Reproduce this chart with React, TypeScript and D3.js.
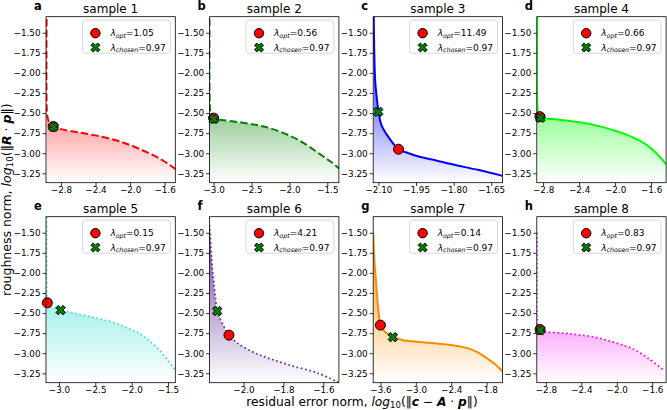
import React, { useEffect, useRef } from "react";
import * as d3 from "d3";

const FONT = "'DejaVu Sans', sans-serif";
const W = 667;
const H = 410;

// Figure grid (2 rows x 4 columns of L-curve panels)
const PANEL_LEFT0 = 46;
const PANEL_STEP = 163.6;
const PANEL_W = 129.3;
const PANEL_H = 166;
const ROW_TOPS = [16.7, 216.7];

const sampleTitles = ["sample 1", "sample 2", "sample 3", "sample 4", "sample 5", "sample 6", "sample 7", "sample 8"];
const panelLetters = ["a", "b", "c", "d", "e", "f", "g", "h"];
const lambdaOpt = ["1.05", "0.56", "11.49", "0.66", "0.15", "4.21", "0.14", "0.83"];
const lambdaChosen = "0.97";

// axis limits: x = log10 residual norm per sample, y = log10 roughness norm (shared)
const xLimits: [number, number][] = [
  [-2.974, -1.476],
  [-3.053, -1.347],
  [-2.121, -1.605],
  [-2.87, -1.433],
  [-3.178, -1.4],
  [-2.17, -1.522],
  [-3.723, -1.531],
  [-2.902, -1.444],
];
const yLimits: [number, number] = [-3.367, -1.3];

const xTickValues: number[][] = [
  [-2.8, -2.4, -2.0, -1.6],
  [-3.0, -2.5, -2.0, -1.5],
  [-2.1, -1.95, -1.8, -1.65],
  [-2.8, -2.4, -2.0, -1.6],
  [-3.0, -2.5, -2.0, -1.5],
  [-2.0, -1.8, -1.6],
  [-3.6, -3.0, -2.4, -1.8],
  [-2.8, -2.4, -2.0, -1.6],
];
const xTickDecimals = [1, 1, 2, 1, 1, 1, 1, 1];
const yTickValues = [-1.5, -1.75, -2.0, -2.25, -2.5, -2.75, -3.0, -3.25];

// L-curves: [log10 residual norm, log10 roughness norm]
const lcurve1: [number, number][] = [
  [-2.966, -1.2], [-2.965, -2.45], [-2.955, -2.56], [-2.93, -2.63], [-2.89, -2.67],
  [-2.8, -2.7], [-2.6, -2.74], [-2.35, -2.79], [-2.1, -2.86], [-1.95, -2.92],
  [-1.8, -2.99], [-1.65, -3.07], [-1.55, -3.14], [-1.47, -3.2],
];
const lcurve2: [number, number][] = [
  [-3.053, -1.2], [-3.05, -2.4], [-3.04, -2.5], [-3.0, -2.57], [-2.9, -2.585],
  [-2.69, -2.61], [-2.45, -2.645], [-2.25, -2.69], [-2.0, -2.78], [-1.8, -2.88],
  [-1.6, -3.01], [-1.45, -3.11], [-1.345, -3.19],
];
const lcurve3: [number, number][] = [
  [-2.119, -1.2], [-2.117, -1.7], [-2.113, -2.1], [-2.106, -2.33], [-2.1, -2.48],
  [-2.088, -2.65], [-2.06, -2.8], [-2.02, -2.95], [-1.98, -3.0], [-1.94, -3.04],
  [-1.87, -3.09], [-1.81, -3.135], [-1.7, -3.21], [-1.6, -3.285],
];
const lcurve4: [number, number][] = [
  [-2.864, -1.2], [-2.862, -2.45], [-2.85, -2.53], [-2.833, -2.555], [-2.7, -2.575],
  [-2.5, -2.6], [-2.23, -2.65], [-2.0, -2.72], [-1.86, -2.775], [-1.67, -2.88],
  [-1.55, -2.99], [-1.43, -3.14],
];
const lcurve5: [number, number][] = [
  [-3.168, -1.2], [-3.167, -2.3], [-3.16, -2.37], [-3.1, -2.42], [-2.98, -2.462],
  [-2.85, -2.49], [-2.67, -2.525], [-2.45, -2.57], [-2.21, -2.63], [-2.0, -2.71],
  [-1.89, -2.755], [-1.75, -2.85], [-1.62, -2.96], [-1.5, -3.09], [-1.4, -3.21],
];
const lcurve6: [number, number][] = [
  [-2.175, -1.35], [-2.169, -1.445], [-2.163, -1.7], [-2.157, -1.92], [-2.149, -2.13],
  [-2.14, -2.33], [-2.132, -2.475], [-2.106, -2.63], [-2.073, -2.77], [-2.03, -2.875],
  [-1.94, -3.0], [-1.86, -3.075], [-1.76, -3.155], [-1.625, -3.25], [-1.52, -3.37],
];
const lcurve7: [number, number][] = [
  [-3.723, -1.5], [-3.71, -1.75], [-3.696, -1.92], [-3.675, -2.1], [-3.656, -2.3],
  [-3.63, -2.5], [-3.6, -2.65], [-3.52, -2.735], [-3.39, -2.795], [-3.23, -2.835],
  [-2.95, -2.86], [-2.67, -2.877], [-2.35, -2.905], [-2.11, -2.94], [-1.95, -2.99],
  [-1.8, -3.06], [-1.65, -3.14], [-1.53, -3.23],
];
const lcurve8: [number, number][] = [
  [-2.9, -1.5], [-2.899, -2.6], [-2.89, -2.69], [-2.865, -2.712], [-2.78, -2.735],
  [-2.6, -2.75], [-2.44, -2.77], [-2.25, -2.8], [-2.06, -2.855], [-1.9, -2.91],
  [-1.8, -2.955], [-1.65, -3.06], [-1.46, -3.22],
];
const lcurves = [lcurve1, lcurve2, lcurve3, lcurve4, lcurve5, lcurve6, lcurve7, lcurve8];

// corner picked by the optimal and by the chosen regularisation parameter
const optPoints: [number, number][] = [
  [-2.89, -2.668], [-3.0, -2.562], [-2.02, -2.95], [-2.835, -2.545],
  [-3.16, -2.372], [-2.073, -2.775], [-3.6, -2.65], [-2.865, -2.705],
];
const chosenPoints: [number, number][] = [
  [-2.887, -2.672], [-2.998, -2.572], [-2.101, -2.485], [-2.83, -2.56],
  [-2.977, -2.463], [-2.132, -2.475], [-3.39, -2.8], [-2.863, -2.712],
];

const lineColors = ["#ff0000", "#008000", "#0000ff", "#00ff00", "#40e0d0", "#663399", "#ff8c00", "#ff00ff"];
const lineDashes = ["7.4,3.2", "7.4,3.2", null, null, "1.7,2.6", "1.7,2.6", null, "1.7,2.6"];
const lineWidths = [2, 2, 2, 2, 1.8, 1.8, 2, 1.8];

const MARKER_SIZE = 10;

// filled "X" marker: a plus polygon rotated by 45 degrees
function xMarkerPath(size: number): string {
  const pts = [
    [-1, -3], [1, -3], [1, -1], [3, -1], [3, 1], [1, 1],
    [1, 3], [-1, 3], [-1, 1], [-3, 1], [-3, -1], [-1, -1],
  ].map(([a, b]) => {
    const u = (a / 6) * size;
    const v = (b / 6) * size;
    const c = Math.SQRT1_2;
    return [u * c - v * c, u * c + v * c];
  });
  return "M" + pts.map((p) => p[0].toFixed(3) + "," + p[1].toFixed(3)).join("L") + "Z";
}

function drawMathLabel(
  text: d3.Selection<SVGTextElement, unknown, null, undefined>,
  prefix: string,
  parts: { t: string; bold?: boolean }[],
  size: number
) {
  text.append("tspan").text(prefix);
  text.append("tspan").attr("font-style", "italic").text("log");
  text.append("tspan").attr("font-size", size * 0.7).attr("dy", size * 0.16).text("10");
  text.append("tspan").attr("dy", -size * 0.16).text("(\u2016");
  parts.forEach((p) => {
    const s = text.append("tspan").text(p.t);
    if (p.bold) s.attr("font-weight", "bold").attr("font-style", "italic");
  });
  text.append("tspan").text("\u2016)");
}

export default function App() {
  const ref = useRef<SVGSVGElement>(null);

  useEffect(() => {
    const svg = d3.select(ref.current as SVGSVGElement);
    svg.selectAll("*").remove();
    const defs = svg.append("defs");

    lcurves.forEach((pts, i) => {
      const row = Math.floor(i / 4);
      const col = i % 4;
      const left = PANEL_LEFT0 + col * PANEL_STEP;
      const top = ROW_TOPS[row];
      const right = left + PANEL_W;
      const bottom = top + PANEL_H;
      const color = lineColors[i];

      const x = d3.scaleLinear().domain(xLimits[i]).range([left, right]);
      const y = d3.scaleLinear().domain(yLimits).range([bottom, top]);

      defs
        .append("clipPath")
        .attr("id", `clip-${i}`)
        .append("rect")
        .attr("x", left)
        .attr("y", top)
        .attr("width", PANEL_W)
        .attr("height", PANEL_H);

      const grad = defs
        .append("linearGradient")
        .attr("id", `shade-${i}`)
        .attr("gradientUnits", "userSpaceOnUse")
        .attr("x1", 0)
        .attr("x2", 0)
        .attr("y1", top)
        .attr("y2", bottom);
      grad.append("stop").attr("offset", 0).attr("stop-color", color).attr("stop-opacity", 1);
      grad.append("stop").attr("offset", 1).attr("stop-color", color).attr("stop-opacity", 0);

      const g = svg.append("g");
      const plot = g.append("g").attr("clip-path", `url(#clip-${i})`);

      const curve = d3.curveCatmullRom.alpha(0.5);
      const area = d3
        .area<[number, number]>()
        .x((d) => x(d[0]))
        .y0(bottom)
        .y1((d) => y(d[1]))
        .curve(curve);
      const line = d3
        .line<[number, number]>()
        .x((d) => x(d[0]))
        .y((d) => y(d[1]))
        .curve(curve);

      plot.append("path").datum(pts).attr("d", area).attr("fill", `url(#shade-${i})`);
      const lp = plot
        .append("path")
        .datum(pts)
        .attr("d", line)
        .attr("fill", "none")
        .attr("stroke", color)
        .attr("stroke-width", lineWidths[i]);
      if (lineDashes[i]) lp.attr("stroke-dasharray", lineDashes[i] as string);

      // markers
      const op = optPoints[i];
      const cp = chosenPoints[i];
      g.append("circle")
        .attr("cx", x(op[0]))
        .attr("cy", y(op[1]))
        .attr("r", MARKER_SIZE / 2)
        .attr("fill", "#ff0000")
        .attr("stroke", "#000")
        .attr("stroke-width", 1);
      g.append("path")
        .attr("d", xMarkerPath(MARKER_SIZE))
        .attr("transform", `translate(${x(cp[0])},${y(cp[1])})`)
        .attr("fill", "#008000")
        .attr("stroke", "#000")
        .attr("stroke-width", 1);

      // spines
      g.append("rect")
        .attr("x", left)
        .attr("y", top)
        .attr("width", PANEL_W)
        .attr("height", PANEL_H)
        .attr("fill", "none")
        .attr("stroke", "#000")
        .attr("stroke-width", 0.8);

      // axes
      const fmtX = d3.format(`.${xTickDecimals[i]}f`);
      const ax = g
        .append("g")
        .attr("transform", `translate(0,${bottom})`)
        .call(
          d3
            .axisBottom(x)
            .tickValues(xTickValues[i])
            .tickSize(3.3)
            .tickPadding(0.3)
            .tickFormat((d) => fmtX(d as number))
        );
      const ay = g
        .append("g")
        .attr("transform", `translate(${left},0)`)
        .call(
          d3
            .axisLeft(y)
            .tickValues(yTickValues)
            .tickSize(3.5)
            .tickPadding(2)
            .tickFormat((d) => d3.format(".2f")(d as number))
        );
      [ax, ay].forEach((a) => {
        a.select(".domain").remove();
        a.attr("font-family", FONT).attr("font-size", 8.8);
        a.selectAll("line").attr("stroke", "#000").attr("stroke-width", 0.8);
        a.selectAll("text").attr("fill", "#000");
      });

      // title and panel letter
      g.append("text")
        .attr("x", (left + right) / 2)
        .attr("y", top - 3.5)
        .attr("text-anchor", "middle")
        .attr("font-family", FONT)
        .attr("font-size", 12)
        .text(sampleTitles[i]);
      g.append("text")
        .attr("x", left - 12)
        .attr("y", Math.max(top - 7.2, 9.6))
        .attr("font-family", FONT)
        .attr("font-size", 11.5)
        .attr("font-weight", "bold")
        .text(panelLetters[i]);

      // legend
      const lg = g.append("g");
      const box = lg.append("rect");
      const fs = 9;
      const entries = [
        { sub: "opt", val: lambdaOpt[i] },
        { sub: "chosen", val: lambdaChosen },
      ];
      let maxLen = 0;
      entries.forEach((e, k) => {
        const t = lg
          .append("text")
          .attr("x", 28)
          .attr("y", 13 + k * 14.3 + 3.2)
          .attr("font-family", FONT)
          .attr("font-size", fs);
        t.append("tspan").attr("font-style", "italic").text("\u03bb");
        t.append("tspan").attr("font-style", "italic").attr("font-size", fs * 0.7).attr("dy", 1.8).text(e.sub);
        t.append("tspan").attr("dy", -1.8).text("=" + e.val);
        const len = (t.node() as SVGTextElement).getComputedTextLength();
        maxLen = Math.max(maxLen, len);
      });
      lg.append("circle")
        .attr("cx", 13)
        .attr("cy", 13)
        .attr("r", MARKER_SIZE / 2 - 0.3)
        .attr("fill", "#ff0000")
        .attr("stroke", "#000")
        .attr("stroke-width", 1);
      lg.append("path")
        .attr("d", xMarkerPath(MARKER_SIZE - 0.5))
        .attr("transform", `translate(13,${13 + 14.3})`)
        .attr("fill", "#008000")
        .attr("stroke", "#000")
        .attr("stroke-width", 1);
      const boxW = 28 + maxLen + 4.5;
      box
        .attr("x", 0)
        .attr("y", 0)
        .attr("width", boxW)
        .attr("height", 33)
        .attr("rx", 2.5)
        .attr("fill", "#fff")
        .attr("fill-opacity", 0.8)
        .attr("stroke", "#cccccc")
        .attr("stroke-width", 0.8);
      lg.attr("transform", `translate(${right - 5 - boxW},${top + 3.5})`);
    });

    // shared axis labels
    const ylab = svg
      .append("text")
      .attr("transform", `translate(10.5,${(ROW_TOPS[0] + ROW_TOPS[1] + PANEL_H) / 2}) rotate(-90)`)
      .attr("text-anchor", "middle")
      .attr("font-family", FONT)
      .attr("font-size", 12.5);
    drawMathLabel(
      ylab as any,
      "roughness norm, ",
      [{ t: "R", bold: true }, { t: " \u00b7 " }, { t: "p", bold: true }],
      12.5
    );
    const xlab = svg
      .append("text")
      .attr("x", 362)
      .attr("y", 405.9)
      .attr("text-anchor", "middle")
      .attr("font-family", FONT)
      .attr("font-size", 12.2);
    drawMathLabel(
      xlab as any,
      "residual error norm, ",
      [
        { t: "c", bold: true },
        { t: " \u2212 " },
        { t: "A", bold: true },
        { t: " \u00b7 " },
        { t: "p", bold: true },
      ],
      12.2
    );
  }, []);

  return (
    <svg
      ref={ref}
      width={W}
      height={H}
      viewBox={`0 0 ${W} ${H}`}
      style={{ position: "absolute", left: 0, top: 0, background: "#fff" }}
    />
  );
}
